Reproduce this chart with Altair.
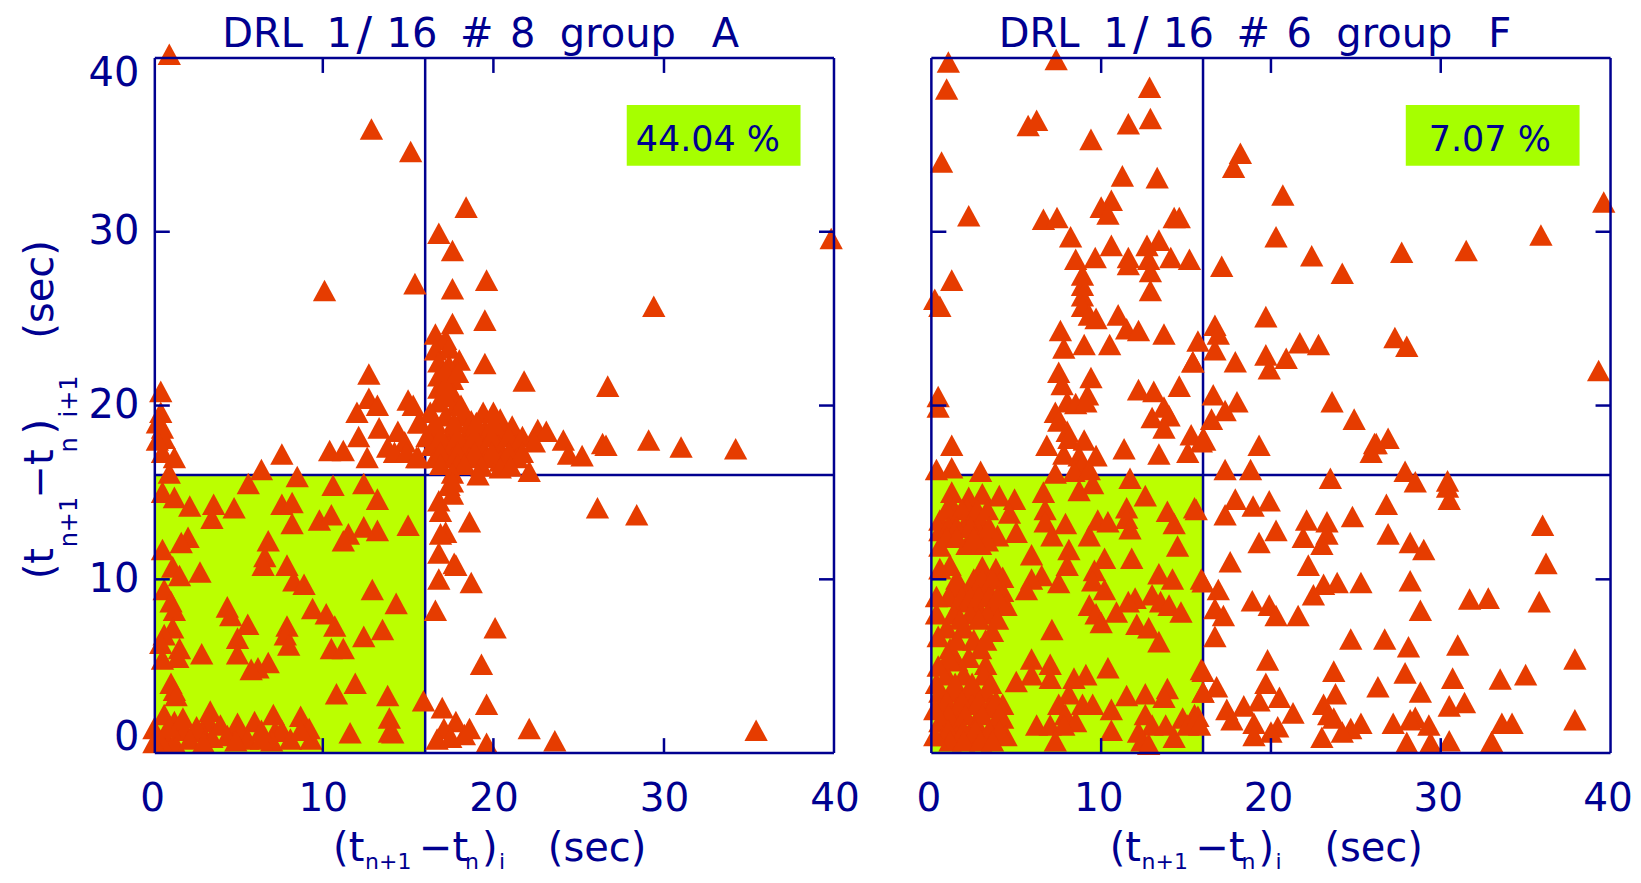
import altair as alt
import pandas as pd

# ---- values (x, y in seconds) ----
POINTS_A = [
(1.0,40.2),(12.85,35.9),(15.15,34.6),(10.1,26.6),(15.4,27.0),(12.7,21.8),
(18.4,31.4),(16.8,29.9),(17.6,28.9),(17.6,26.7),(19.6,27.2),(29.4,25.7),(17.6,24.7),(19.5,24.9),(21.8,21.4),(26.7,21.1),(19.5,22.4),(39.8,29.6),
(16.6,24.1),(17.2,23.8),(16.6,23.2),(17.4,23.3),(18.0,22.6),(16.8,22.5),(17.4,22.3),(16.8,21.7),(17.6,21.5),(16.8,21.0),(17.6,20.7),(16.8,20.2),(17.8,20.0),
(17.2,19.4),(18.2,19.4),(19.4,19.6),(20.4,19.2),(21.1,18.8),(16.6,18.6),(17.6,18.6),(18.6,18.6),(19.5,18.6),(20.5,18.6),(15.7,19.0),
(16.4,17.7),(17.4,17.7),(18.4,17.7),(19.3,17.7),(20.3,17.7),(21.3,17.7),(15.6,17.0),(16.6,17.0),(17.6,17.0),(18.6,17.0),(19.6,17.0),(20.4,16.8),(21.4,17.0),
(16.1,18.2),(16.9,18.2),(17.9,18.2),(18.9,18.2),(19.9,18.2),(20.9,18.2),(21.7,18.2),(16.9,17.3),(17.9,17.3),(18.9,17.3),(19.9,17.3),(20.9,17.3),(21.7,17.3),(16.3,19.6),(17.7,19.0),(18.7,19.1),(19.0,19.0),(20.0,19.0),(20.0,19.6),(17.2,20.5),(17.2,21.2),(17.2,22.0),(17.9,21.9),(16.6,19.0),(18.1,20.0),(16.9,16.6),(17.9,16.6),(18.3,16.6),(19.3,16.5),(20.4,16.4),(21.0,16.5),
(22.6,18.6),(23.1,18.5),(22.4,17.9),(24.1,18.0),(24.4,17.2),(25.2,17.1),(26.4,17.8),(26.6,17.7),(29.1,18.0),(31.0,17.6),(34.2,17.5),
(19.1,16.0),(22.1,16.2),(17.6,16.1),(17.4,15.4),
(12.7,20.4),(13.2,20.0),(12.0,19.6),(15.0,20.3),(15.3,20.0),(13.3,18.7),(12.1,18.2),(15.6,19.0),(14.4,18.5),(14.8,17.9),(13.8,17.6),(12.6,17.0),(14.2,17.3),(14.9,17.3),(10.4,17.4),(11.2,17.4),(7.6,17.2),(15.5,17.0),
(0.5,20.8),(0.5,19.6),(0.6,18.7),(0.7,18.1),(0.6,17.3),(1.3,17.0),(1.0,16.1),(0.6,15.0),(1.3,14.7),(0.3,19.0),(0.3,18.0),
(5.63,15.5),(6.4,16.3),(8.5,15.9),(10.6,15.4),(12.4,15.5),(13.2,14.6),(2.2,14.2),(3.6,14.3),(4.8,14.1),(7.6,14.3),(8.2,14.4),(3.5,13.5),(8.2,13.2),(9.8,13.4),(10.5,13.7),(15.0,13.1),
(13.2,12.8),(12.4,13.0),(11.5,12.6),(11.2,12.2),(2.1,12.4),(1.7,12.1),(0.6,11.7),(6.8,12.2),(6.6,11.3),(6.5,10.8),(1.2,10.7),(1.6,10.2),(2.8,10.4),(7.9,10.8),(8.3,9.9),(8.9,9.7),
(12.9,9.4),(14.3,8.6),(0.7,9.4),(1.1,8.7),(1.3,8.2),(4.4,8.4),(4.6,7.9),(9.4,8.3),(10.2,8.0),(10.7,7.3),(5.6,7.4),(7.9,7.3),(7.8,6.8),(8.0,6.2),(13.5,7.1),(12.4,6.7),(5.0,6.6),(5.0,5.7),
(10.5,6.0),(11.2,6.0),(1.2,7.2),(0.7,6.8),(0.5,6.3),(1.6,6.0),(1.5,5.5),(0.6,5.4),(2.9,5.7),(6.8,5.2),(6.2,4.9),(5.8,4.8),(11.9,4.0),(10.8,3.4),(13.8,3.3),(15.9,3.0),(1.1,4.0),(1.3,3.6),(1.4,3.3),
(13.9,2.0),(13.9,1.2),(14.1,1.15),(11.6,1.15),(3.4,2.4),(5.0,1.7),(6.0,1.8),(7.1,2.2),(8.7,2.1),(0.7,2.2),(1.3,1.8),(3.3,1.8),(2.9,1.25),(3.5,0.9),(5.1,1.25),(5.6,0.8),(7.2,1.25),(7.6,1.3),(7.0,0.7),
(9.3,0.8),(9.2,1.4),(0.7,1.05),(1.3,0.6),(0.5,0.7),(0.1,1.4),(0.1,0.6),(1.9,1.3),(2.6,1.5),(4.4,1.0),
(1.0,1.5),(2.2,0.8),(4.0,1.6),(4.9,0.7),(6.4,0.8),(6.4,1.3),(8.1,0.8),(8.7,1.3),(3.0,0.6),(1.8,2.0),
(16.6,8.2),(16.8,10.0),(17.8,10.8),(16.8,11.5),(17.2,12.7),(16.9,13.9),(16.8,14.5),(17.6,14.9),(17.6,15.6),(18.7,9.8),(18.6,13.3),
(17.0,2.6),(17.8,1.8),(17.1,1.4),(16.7,0.8),(17.5,0.9),(18.3,1.05),(18.6,1.4),
(26.1,14.1),(28.4,13.7),(20.1,7.2),(19.3,5.1),(19.6,2.8),(22.1,1.4),(23.6,0.7),(35.4,1.3),(19.6,0.55),(17.7,10.9),(16.9,12.6),
]

POINTS_F = [
(1.0,39.75),(7.35,39.9),(0.9,38.2),(12.85,38.3),(5.7,36.1),(6.2,36.4),(11.6,36.2),(12.9,36.5),(9.4,35.3),(0.6,34.0),(11.25,33.2),(13.3,33.1),(10.6,31.8),(10.0,31.4),(10.4,31.0),(2.2,30.9),(6.6,30.7),(7.4,30.8),(14.3,30.8),(14.6,30.8),
(8.2,29.7),(10.6,29.2),(11.6,28.5),(11.6,28.1),(12.7,29.2),(13.4,29.5),(14.1,28.5),(15.2,28.4),(12.8,28.4),(8.5,28.4),(9.65,28.5),(8.9,27.5),(8.9,26.9),(8.9,26.3),(8.9,25.7),(9.3,25.2),(9.7,25.0),(12.9,27.7),(12.9,26.6),(1.2,27.2),(0.2,26.1),(0.5,25.7),
(11.0,25.2),(11.5,24.4),(12.2,24.3),(13.7,24.1),(7.6,24.3),(7.8,23.3),(9.0,23.5),(10.5,23.5),(15.4,22.5),(7.5,21.9),(7.7,21.2),(9.4,21.6),(12.2,20.9),(13.1,20.8),(14.6,21.1),(9.2,20.6),(8.0,20.2),(8.5,20.1),(9.1,20.2),(0.4,20.5),(0.4,19.9),
(7.3,19.6),(7.5,19.1),(8.0,18.5),(8.1,18.1),(13.0,19.3),(13.7,19.9),(14.0,19.4),(13.7,18.7),(15.3,18.3),(16.0,18.1),(15.1,17.3),(6.8,17.7),(1.2,17.7),(11.35,17.5),(13.4,17.2),(9.0,18.0),(7.8,17.2),(8.7,17.1),(9.7,17.1),(8.9,16.6),
(0.3,16.3),(1.2,16.4),(2.9,16.2),(7.3,16.1),(8.4,16.2),(9.3,16.3),(11.7,15.8),(9.5,15.5),(8.7,15.1),(6.6,15.0),(12.6,14.8),(1.2,15.0),(3.0,14.9),(4.0,14.8),(4.9,14.6),(4.6,13.8),(1.1,14.3),(2.2,14.7),
(6.7,14.0),(6.7,13.3),(7.9,13.2),(7.1,12.5),(9.8,13.4),(10.4,13.3),(9.3,12.5),(11.5,14.1),(11.5,13.5),(11.7,12.9),(13.9,13.9),(14.3,13.2),(15.5,14.1),(14.5,11.9),(5.0,12.7),(3.9,12.5),
(0.5,13.4),(1.3,13.3),(2.3,13.7),(2.9,13.4),(1.9,13.0),(2.7,12.9),(0.5,12.8),(1.3,14.1),(2.1,14.1),(2.1,12.0),(2.9,12.0),(3.3,12.2),(0.5,11.9),(5.9,11.4),(8.1,11.7),(8.0,10.8),(10.2,11.2),(11.8,11.2),(1.1,10.8),(0.5,10.6),(3.0,10.7),(3.8,10.6),(4.2,10.1),
(9.6,10.5),(6.5,10.2),(5.9,10.0),(5.6,9.4),(7.5,9.8),(9.5,9.9),(10.2,9.4),(13.4,10.3),(14.2,10.0),(15.9,10.0),(13.0,9.1),(12.0,8.9),(11.6,8.7),(13.5,8.7),(14.0,8.5),(14.7,8.1),(9.3,8.5),(9.7,8.0),(10.9,8.1),(10.0,7.5),(12.1,7.4),(12.8,7.2),(13.4,6.4),(7.1,7.1),
(2.3,9.5),(3.3,9.5),(4.2,9.3),(1.3,9.5),(1.7,8.7),(2.7,8.5),(3.6,8.5),(4.4,8.5),(1.3,8.0),(2.3,8.0),(3.3,8.0),(0.9,7.2),(1.9,7.2),(3.6,7.0),(1.1,6.0),(2.9,6.0),(1.5,5.3),(3.2,5.1),(0.9,4.5),(1.9,4.5),(3.1,4.5),
(5.9,5.4),(7.0,5.1),(5.9,4.5),(7.0,4.3),(5.0,4.1),(10.4,4.9),(9.1,4.5),(8.4,4.3),(11.5,3.3),(12.6,3.4),(13.9,3.7),(13.7,3.2),(15.9,4.8),(16.0,3.5),(8.1,3.4),(7.5,2.8),(8.9,2.8),(7.9,2.2),(8.5,1.8),(6.2,1.6),(7.0,1.6),(7.8,1.6),(7.3,0.7),
(9.5,2.8),(10.6,2.5),(10.6,1.3),(12.6,2.2),(13.0,1.6),(12.2,1.2),(12.4,0.7),(12.8,0.5),(14.8,2.0),(15.5,2.2),(14.3,0.9),(13.8,1.6),(15.1,1.6),
(0.5,3.5),(1.3,3.5),(2.3,3.5),(3.2,3.5),(4.2,2.8),(0.5,2.6),(1.5,2.6),(2.4,2.8),(3.4,2.6),(4.2,2.0),(0.5,1.8),(1.5,1.6),(2.6,1.8),(3.8,1.6),(0.7,1.0),(2.2,1.0),(3.0,1.0),(4.4,1.0),(1.5,1.0),
(0.9,14.0),(1.8,14.0),(2.7,14.0),(3.3,14.0),(1.0,13.0),(1.5,13.0),(2.3,13.0),(3.4,13.0),(0.9,12.4),(1.5,12.4),(2.5,12.4),
(1.5,10.0),(2.5,10.0),(3.0,10.0),(3.6,10.0),(1.0,9.0),(1.8,9.0),(2.3,9.0),(2.8,9.0),(3.4,9.0),(3.9,9.0),(1.7,7.7),(2.8,7.7),(3.9,7.7),(1.5,6.5),(2.5,6.5),(3.2,6.5),(2.2,5.5),(1.0,5.5),
(1.4,4.0),(2.4,4.0),(3.5,4.0),(0.9,3.0),(1.8,3.0),(2.8,3.0),(3.8,3.0),(1.0,2.2),(2.0,2.2),(3.0,2.2),(4.0,2.2),(1.0,1.3),(1.9,1.3),(2.6,1.3),(3.4,1.3),(4.0,1.3),(1.1,0.7),(1.9,0.7),(2.9,0.7),(3.6,0.7),
(0.3,9.0),(0.3,8.0),(0.4,6.7),(0.4,5.0),(0.3,4.0),(0.2,2.5),(0.2,1.0),
(18.2,34.5),(17.8,33.7),(20.7,32.1),(20.3,29.7),(22.4,28.6),(24.2,27.6),(27.7,28.8),(31.5,28.9),(35.9,29.8),(39.6,31.7),(17.1,28.0),(19.7,25.1),(16.7,24.6),(16.9,24.1),(15.7,23.7),(16.7,23.2),(17.9,22.5),(19.7,22.9),(19.9,22.1),(20.9,22.7),(21.7,23.6),(22.8,23.5),(27.3,23.9),(28.0,23.4),(39.3,22.0),
(16.6,20.6),(18.0,20.2),(17.3,19.7),(16.5,19.2),(23.6,20.2),(24.9,19.2),(26.9,18.1),(26.1,17.8),(19.3,17.7),(16.1,18.0),(25.9,17.3),(26.2,17.8),(15.9,17.9),(15.4,22.5),
(17.3,16.3),(18.8,16.3),(23.5,15.8),(27.9,16.2),(28.5,15.6),(30.4,15.65),(30.4,15.3),(30.5,14.6),(17.9,14.6),(17.3,13.7),(18.95,14.2),(19.9,14.5),(15.6,14.0),(26.8,14.3),(22.1,13.4),(23.3,13.3),(24.8,13.6),(36.0,13.1),(20.3,12.8),(21.9,12.4),(23.3,12.6),(23.0,12.0),(26.9,12.6),(19.3,12.1),(28.2,12.1),(29.0,11.7),
(17.6,11.0),(22.2,10.8),(36.2,10.9),(16.0,9.85),(16.9,9.4),(23.1,9.7),(23.9,9.8),(22.5,9.1),(25.3,9.8),(28.2,9.9),(18.9,8.75),(19.9,8.5),(20.3,7.9),(21.6,7.9),(28.8,8.2),(31.7,8.85),(32.8,8.9),(35.8,8.7),(16.7,8.3),(17.2,7.9),(16.7,6.7),(24.7,6.55),(26.7,6.55),(28.1,6.1),(31.0,6.2),(37.9,5.4),(19.8,5.35),
(23.7,4.7),(27.9,4.6),(30.7,4.3),(16.0,4.7),(19.7,4.0),(33.5,4.25),(35.0,4.5),(26.3,3.8),(16.8,3.8),(16.0,3.5),(23.8,3.4),(28.8,3.5),(20.5,3.2),(19.3,3.0),(23.1,2.8),(30.5,2.7),(31.4,2.9),(18.4,2.7),(17.4,2.5),(21.3,2.3),(15.7,2.1),(17.7,1.9),(19.0,1.7),(23.4,2.2),(23.7,2.0),(27.2,1.7),(25.3,1.7),(24.7,1.4),(24.2,1.2),(28.5,2.05),(28.2,1.9),(29.3,1.6),(20.4,1.5),(20.0,1.2),(19.0,1.0),(23.0,0.9),(28.0,0.6),(29.4,0.6),(30.5,0.7),(33.0,0.65),(33.6,1.7),(34.2,1.7),(37.9,1.9),(15.8,1.6),
]

TICK_LABELS = [0, 10, 20, 30, 40]
INNER_TICKS = [10, 20, 30]
THRESHOLD = 16
PERCENT_A = "44.04 %"
PERCENT_F = "7.07 %"
TITLE_A = ["DRL", "1", "16", "#", "8", "group", "A"]
TITLE_F = ["DRL", "1", "16", "#", "6", "group", "F"]

W, H = 680, 696
NAVY = "#000090"
GREEN = "#BBFF00"
LIME = "#A6FF00"
RED = "#E63C00"
FONT = "DejaVu Sans"
TRI = "M 0 -0.95 L 1 0.9 L -1 0.9 Z"
ONE = pd.DataFrame({"k": [0]})


def label(txt, px, py, size, angle=0, align="left", color=NAVY):
    return alt.Chart(pd.DataFrame({"label": [txt]})).mark_text(
        font=FONT, fontSize=size, angle=angle, align=align, baseline="alphabetic", color=color
    ).encode(x=alt.value(px), y=alt.value(py), text="label:N")


def frame(x1, y1, x2=None, y2=None, width=2.5):
    enc = {"x": alt.value(x1), "y": alt.value(y1)}
    if x2 is not None:
        enc["x2"] = alt.value(x2)
    if y2 is not None:
        enc["y2"] = alt.value(y2)
    return alt.Chart(ONE).mark_rule(color=NAVY, strokeWidth=width).encode(**enc)


def panel(points, xrange, rect_x0, title_words, pct, pct_x, rect_x, with_y, label_shift):
    xs = alt.Scale(domain=[0, 40], range=xrange, nice=False, zero=False)
    ys = alt.Scale(domain=[0, 40], nice=False, zero=False)
    xax = alt.Axis(values=TICK_LABELS, tickSize=0, domain=False, grid=False, title=None, labelAngle=0,
                   labelFont=FONT, labelFontSize=39, labelColor=NAVY, labelPadding=26, labelFlush=False,
                   labelOffset=label_shift, labelOverlap=False)
    yax = alt.Axis(values=TICK_LABELS, tickSize=0, domain=False, grid=False, title=None,
                   labelFont=FONT, labelFontSize=40, labelColor=NAVY, labelPadding=16, labelFlush=True,
                   labelFlushOffset=4, labelOverlap=False) if with_y else None

    dfp = pd.DataFrame(points, columns=["x", "y"])
    base = alt.Chart(dfp)

    green = alt.Chart(pd.DataFrame({"x0": [rect_x0], "x1": [THRESHOLD], "y0": [0], "y1": [THRESHOLD]})).mark_rect(
        fill=GREEN, opacity=1, strokeWidth=0
    ).encode(x=alt.X("x0:Q", scale=xs, axis=xax), x2="x1:Q", y=alt.Y("y0:Q", scale=ys, axis=yax), y2="y1:Q")

    div_v = alt.Chart(pd.DataFrame({"v": [THRESHOLD]})).mark_rule(color=NAVY, strokeWidth=2.5).encode(
        x=alt.X("v:Q", scale=xs), y=alt.value(0), y2=alt.value(H))
    div_h = alt.Chart(pd.DataFrame({"v": [THRESHOLD]})).mark_rule(color=NAVY, strokeWidth=2.5).encode(
        y=alt.Y("v:Q", scale=ys), x=alt.value(0), x2=alt.value(W))

    pts = base.mark_point(shape=TRI, filled=True, size=545, color=RED, opacity=1, strokeWidth=0).encode(
        x=alt.X("x:Q", scale=xs), y=alt.Y("y:Q", scale=ys))

    tick_df = pd.DataFrame({"t": INNER_TICKS})
    ticks = []
    for a, b in ((H, H - 15), (0, 15)):
        ticks.append(alt.Chart(tick_df).mark_rule(color=NAVY, strokeWidth=2.5).encode(
            x=alt.X("t:Q", scale=xs), y=alt.value(a), y2=alt.value(b)))
    for a, b in ((0, 15), (W, W - 15)):
        ticks.append(alt.Chart(tick_df).mark_rule(color=NAVY, strokeWidth=2.5).encode(
            y=alt.Y("t:Q", scale=ys), x=alt.value(a), x2=alt.value(b)))

    spines = [frame(0, 0, y2=H), frame(W, 0, y2=H), frame(0, 0, x2=W), frame(0, H, x2=W)]

    box = alt.Chart(ONE).mark_rect(color=LIME, opacity=1).encode(
        x=alt.value(rect_x), x2=alt.value(rect_x + 174), y=alt.value(47), y2=alt.value(108))

    offs = [67.5, 172, 232, 305.5, 355.5, 405.5, 557.5]
    words = [label(w, o, -11, 40) for w, o in zip(title_words, offs)]
    words.append(label("/", 202, -8, 46))

    xt = [label("(t", 178.5, 804, 40), label("n+1", 210.5, 812, 22), label("\u2212t", 264.5, 804, 40),
          label("n", 310.5, 812, 22), label(")", 327.5, 804, 40), label("i", 344.5, 812, 22),
          label("(sec)", 393.5, 804, 40)]

    layers = [green, div_v, div_h, pts, box, label(pct, pct_x, 92.7, 35)] + spines + ticks + words + xt
    if with_y:
        yt = [label("(t", -101.5, 522, 40, 270), label("n+1", -77.5, 490, 24, 270),
              label("\u2212t", -101.5, 441, 40, 270), label("n", -77.5, 395, 24, 270),
              label(")", -101.5, 377, 40, 270), label("i+1", -77.5, 360, 24, 270),
              label("(sec)", -101.5, 281, 40, 270)]
        layers += yt
    return alt.layer(*layers).properties(width=W, height=H)


left = panel(POINTS_A, [-2.6, 680.6], 0.15, TITLE_A, PERCENT_A, 481.5, 472.5, True, 0)
right = panel(POINTS_F, [0, 680], 0, TITLE_F, PERCENT_F, 498, 475, False, -3)

chart = alt.hconcat(left, right, spacing=97.5, bounds="flush").properties(
    padding={"left": 13, "top": 4.5, "right": 0, "bottom": 0}
).configure_view(stroke=None).resolve_scale(x="independent", y="independent")

chart.save("out.html", embed_options={"renderer": "svg", "actions": False})
